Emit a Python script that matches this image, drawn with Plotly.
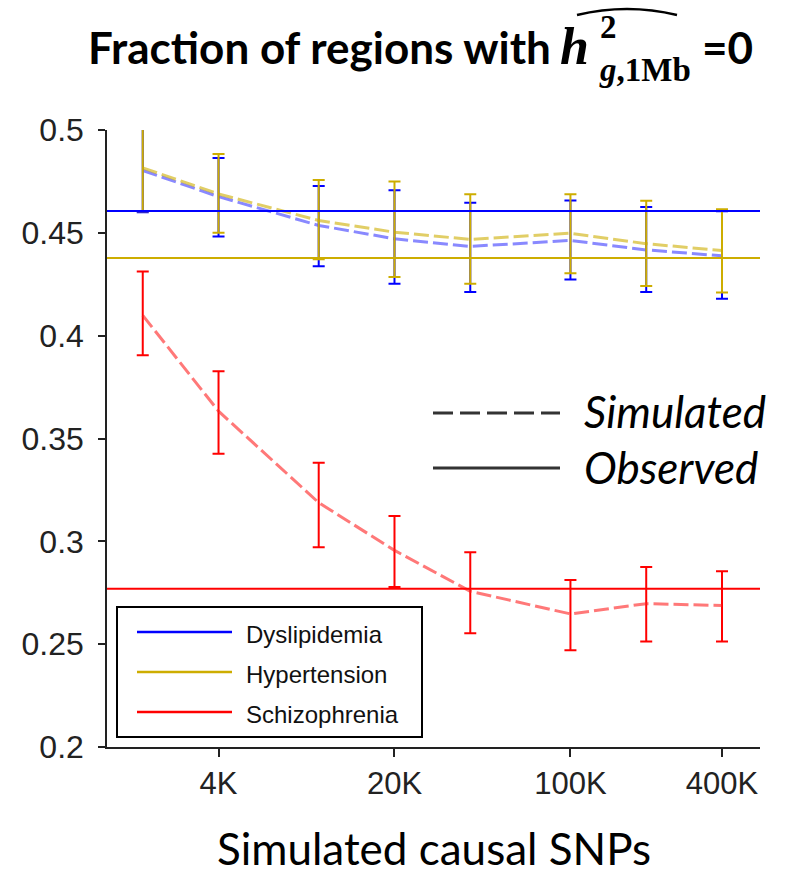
import plotly.graph_objects as go

# Number of simulated causal SNPs (log-spaced)
causal_snps = [2000, 4000, 10000, 20000, 40000, 100000, 200000, 400000]
tick_vals = [4000, 20000, 100000, 400000]
tick_text = ["4K", "20K", "100K", "400K"]

# Simulated fraction of 1Mb regions with estimated h2 = 0 (mean, lower, upper)
dys_mean = [0.4803, 0.4676, 0.4536, 0.4471, 0.4434, 0.4463, 0.4417, 0.4388]
dys_lo = [0.4600, 0.4482, 0.4337, 0.4252, 0.4212, 0.4273, 0.4212, 0.4180]
dys_hi = [0.5010, 0.4864, 0.4728, 0.4707, 0.4646, 0.4657, 0.4626, 0.4605]

hyp_mean = [0.4816, 0.4689, 0.4560, 0.4503, 0.4468, 0.4498, 0.4447, 0.4414]
hyp_lo = [0.4605, 0.4500, 0.4371, 0.4285, 0.4252, 0.4304, 0.4241, 0.4210]
hyp_hi = [0.5030, 0.4883, 0.4757, 0.4749, 0.4688, 0.4688, 0.4656, 0.4615]

scz_mean = [0.4099, 0.3633, 0.3188, 0.2956, 0.2757, 0.2647, 0.2697, 0.2688]
scz_lo = [0.3905, 0.3426, 0.2971, 0.2778, 0.2553, 0.2471, 0.2513, 0.2513]
scz_hi = [0.4312, 0.3827, 0.3382, 0.3123, 0.2947, 0.2812, 0.2875, 0.2854]

# Observed fractions
observed = {"Dyslipidemia": 0.4606, "Hypertension": 0.4378, "Schizophrenia": 0.2770}

diseases = ["Dyslipidemia", "Hypertension", "Schizophrenia"]
colors = {"Dyslipidemia": "#0000FF", "Hypertension": "#CDAD00", "Schizophrenia": "#FF0000"}
dash_colors = {"Dyslipidemia": "rgba(40,40,255,0.55)",
               "Hypertension": "rgba(205,173,0,0.6)",
               "Schizophrenia": "rgba(255,30,30,0.6)"}
series = {
    "Dyslipidemia": (dys_mean, dys_lo, dys_hi),
    "Hypertension": (hyp_mean, hyp_lo, hyp_hi),
    "Schizophrenia": (scz_mean, scz_lo, scz_hi),
}

W, H = 794, 876
L, R, T, B = 107, 760, 130, 747


def px(x):
    return (x - L) / (R - L)


def py(y):
    return (B - y) / (B - T)


fig = go.Figure()

for name in diseases:
    mean, lo, hi = series[name]
    fig.add_trace(go.Scatter(
        x=causal_snps, y=mean, mode="lines", name=name,
        line=dict(color=dash_colors[name], width=3, dash="15px,5px"),
        error_y=dict(type="data", symmetric=False,
                     array=[h - m for h, m in zip(hi, mean)],
                     arrayminus=[m - l for m, l in zip(mean, lo)],
                     color=colors[name], thickness=2, width=6),
        showlegend=False,
    ))

shapes = []
# Observed values as horizontal reference lines
for name in diseases:
    shapes.append(dict(type="line", xref="paper", yref="y", x0=0, x1=1,
                       y0=observed[name], y1=observed[name],
                       line=dict(color=colors[name], width=2)))

annotations = []

# Disease legend box
shapes.append(dict(type="rect", xref="paper", yref="paper",
                   x0=px(117), x1=px(422), y0=py(737), y1=py(607),
                   line=dict(color="black", width=2), fillcolor="white", layer="above"))
for i, name in enumerate(diseases):
    yy = 632 + 40 * i
    shapes.append(dict(type="line", xref="paper", yref="paper",
                       x0=px(137), x1=px(232), y0=py(yy), y1=py(yy),
                       line=dict(color=colors[name], width=2.5)))
    annotations.append(dict(text=name, xref="paper", yref="paper",
                            x=px(244), y=py(yy + 2), xanchor="left", yanchor="middle",
                            showarrow=False,
                            font=dict(family="Liberation Sans", size=24, color="#111")))

# Line-style key
shapes.append(dict(type="line", xref="paper", yref="paper",
                   x0=px(433), x1=px(560), y0=py(413), y1=py(413),
                   line=dict(color="#333", width=3, dash="20px,7px")))
shapes.append(dict(type="line", xref="paper", yref="paper",
                   x0=px(433), x1=px(560), y0=py(468), y1=py(468),
                   line=dict(color="#333", width=3)))
for label, yy in [("Simulated", 411), ("Observed", 467)]:
    annotations.append(dict(text="<i>%s</i>" % label, xref="paper", yref="paper",
                            x=px(582), y=py(yy), xanchor="left", yanchor="middle",
                            showarrow=False,
                            font=dict(family="Lato", size=44, color="black")))

# Title pieces
annotations.append(dict(text="<b>Fraction of regions with</b>", xref="paper", yref="paper",
                        x=px(86), y=py(47), xanchor="left", yanchor="middle", showarrow=False,
                        font=dict(family="Lato", size=44, color="black")))
annotations.append(dict(text="<b><i>h</i></b>", xref="paper", yref="paper",
                        x=px(558), y=py(46), xanchor="left", yanchor="middle", showarrow=False,
                        font=dict(family="Liberation Serif", size=52, color="black")))
# superscript over subscript, stacked in one block
annotations.append(dict(text="<b>2</b><br><b><i>g</i>,1Mb</b>", xref="paper", yref="paper",
                        x=px(597), y=py(48), xanchor="left", yanchor="middle", align="left",
                        showarrow=False,
                        font=dict(family="Liberation Serif", size=33, color="black")))
annotations.append(dict(text="<b>=0</b>", xref="paper", yref="paper",
                        x=px(700), y=py(47), xanchor="left", yanchor="middle", showarrow=False,
                        font=dict(family="Lato", size=44, color="black")))
shapes.append(dict(type="path", xref="paper", yref="paper",
                   path="M %f,%f Q %f,%f %f,%f" % (px(577), py(15), px(627), py(3), px(677), py(15)),
                   line=dict(color="black", width=2.5)))

# x-axis title
annotations.append(dict(text="Simulated causal SNPs", xref="paper", yref="paper",
                        x=px(434), y=py(848), xanchor="center", yanchor="middle", showarrow=False,
                        font=dict(family="Lato", size=44, color="black")))

fig.update_layout(
    width=W, height=H,
    margin=dict(l=L, r=W - R, t=T, b=H - B, pad=0),
    paper_bgcolor="white", plot_bgcolor="white",
    shapes=shapes, annotations=annotations,
    showlegend=False,
)
fig.update_xaxes(type="log", range=[3.159, 5.753],
                 tickvals=tick_vals, ticktext=tick_text,
                 ticks="outside", ticklen=8, tickwidth=1.5, tickcolor="#222",
                 showline=True, linecolor="#222", linewidth=1.5,
                 showgrid=False, zeroline=False,
                 tickfont=dict(family="Liberation Sans", size=31, color="#222"))
fig.update_yaxes(range=[0.2, 0.5],
                 tickvals=[0.2, 0.25, 0.3, 0.35, 0.4, 0.45, 0.5],
                 ticktext=["0.2", "0.25", "0.3", "0.35", "0.4", "0.45", "0.5"],
                 ticks="outside", ticklen=7, tickwidth=1.5, tickcolor="#222",
                 showline=True, linecolor="#222", linewidth=1.5,
                 showgrid=False, zeroline=False, ticklabelstandoff=8,
                 tickfont=dict(family="Liberation Sans", size=32, color="#222"))

fig.write_html("out.html")
